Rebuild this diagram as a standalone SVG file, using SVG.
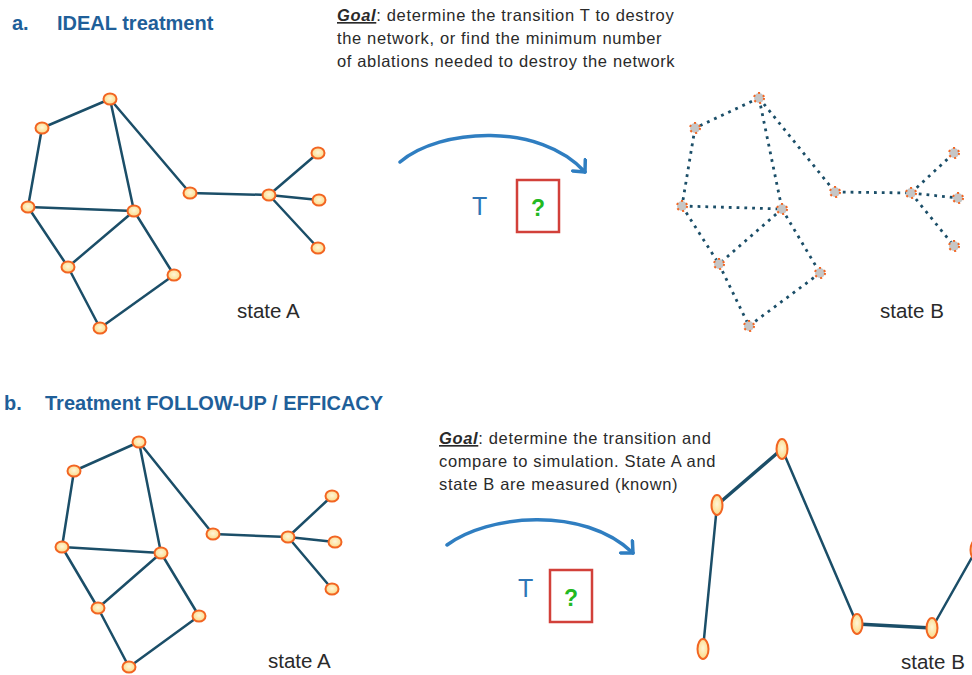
<svg xmlns="http://www.w3.org/2000/svg" width="972" height="675" viewBox="0 0 972 675">
  <defs>
    <radialGradient id="nodeFill" cx="50%" cy="45%" r="60%">
      <stop offset="0%" stop-color="#fff6d8"/>
      <stop offset="100%" stop-color="#fbd77e"/>
    </radialGradient>
    <marker id="chevron" markerUnits="userSpaceOnUse" markerWidth="20" markerHeight="20" viewBox="-12 -10 14 20" refX="0" refY="0" orient="auto">
      <path d="M-9,-8.5 L0,0 L-9,8.5" fill="none" stroke="#2f7ec1" stroke-width="3.5" stroke-linecap="round" stroke-linejoin="round"/>
    </marker>
  </defs>
  <style>
    .title { font-family: "Liberation Sans", Arial, sans-serif; font-weight: bold; font-size: 20px; fill: #1f5f99; }
    .body { font-family: "Liberation Sans", Arial, sans-serif; font-size: 16.5px; letter-spacing: 0.65px; fill: #2a2a2a; }
    .goal { font-weight: bold; font-style: italic; text-decoration: underline; }
    .state { font-family: "Liberation Sans", Arial, sans-serif; font-size: 20.5px; fill: #2a2a2a; }
    .tlabel { font-family: "Liberation Sans", Arial, sans-serif; font-size: 25px; fill: #2e75b6; }
    .qmark { font-family: "Liberation Sans", Arial, sans-serif; font-size: 23px; font-weight: bold; fill: #22b922; }
    .qbox { fill: none; stroke: #d2403a; stroke-width: 2.5; }
    .edge { stroke: #1b4e68; stroke-width: 2.5; fill: none; stroke-linecap: round; }
    .edge-thick { stroke: #1b4e68; stroke-width: 3.5; fill: none; stroke-linecap: round; }
    .dotted { stroke: #1b4e68; stroke-width: 2.8; fill: none; stroke-dasharray: 2.8 5; }
    .node { fill: url(#nodeFill); stroke: #f26522; stroke-width: 2; }
    .ghost { fill: #c6c6c6; stroke: #f26522; stroke-width: 2; stroke-dasharray: 2 3.5; }
    .arc { fill: none; stroke: #2f7ec1; stroke-width: 3.5; stroke-linecap: round; }
  </style>

  <!-- Section a -->
  <g id="title-a">
    <text class="title" x="12" y="30">a.</text>
    <text class="title" x="57" y="30">IDEAL treatment</text>
  </g>
  <g id="goal-a">
    <text class="body" x="337" y="21"><tspan class="goal">Goal</tspan>: determine  the transition T to destroy</text>
    <text class="body" x="337" y="44">the network,  or find the minimum  number</text>
    <text class="body" x="337" y="67">of ablations needed to destroy the network</text>
  </g>

  <!-- network a, state A: connectors -->
  <g id="edges-a-stateA">
    <line class="edge" x1="110" y1="99" x2="42" y2="128"/>
    <line class="edge" x1="110" y1="99" x2="134" y2="211"/>
    <line class="edge" x1="110" y1="99" x2="190" y2="193"/>
    <line class="edge" x1="42" y1="128" x2="28" y2="207"/>
    <line class="edge" x1="28" y1="207" x2="134" y2="211"/>
    <line class="edge" x1="28" y1="207" x2="68" y2="267"/>
    <line class="edge" x1="134" y1="211" x2="68" y2="267"/>
    <line class="edge" x1="134" y1="211" x2="174" y2="275"/>
    <line class="edge" x1="68" y1="267" x2="100" y2="328"/>
    <line class="edge" x1="174" y1="275" x2="100" y2="328"/>
    <line class="edge" x1="190" y1="193" x2="269" y2="195"/>
    <line class="edge" x1="269" y1="195" x2="318" y2="153"/>
    <line class="edge" x1="269" y1="195" x2="319" y2="200"/>
    <line class="edge" x1="269" y1="195" x2="318" y2="248"/>
  </g>
  <g id="nodes-a-stateA">
    <g id="aA1"><ellipse class="node" cx="110" cy="99" rx="6.5" ry="5.5"/></g>
    <g id="aA2"><ellipse class="node" cx="42" cy="128" rx="6.5" ry="5.5"/></g>
    <g id="aA3"><ellipse class="node" cx="28" cy="207" rx="6.5" ry="5.5"/></g>
    <g id="aA4"><ellipse class="node" cx="134" cy="211" rx="6.5" ry="5.5"/></g>
    <g id="aA5"><ellipse class="node" cx="68" cy="267" rx="6.5" ry="5.5"/></g>
    <g id="aA6"><ellipse class="node" cx="174" cy="275" rx="6.5" ry="5.5"/></g>
    <g id="aA7"><ellipse class="node" cx="100" cy="328" rx="6.5" ry="5.5"/></g>
    <g id="aA8"><ellipse class="node" cx="190" cy="193" rx="6.5" ry="5.5"/></g>
    <g id="aA9"><ellipse class="node" cx="269" cy="195" rx="6.5" ry="5.5"/></g>
    <g id="aA10"><ellipse class="node" cx="318" cy="153" rx="6.5" ry="5.5"/></g>
    <g id="aA11"><ellipse class="node" cx="319" cy="200" rx="6.5" ry="5.5"/></g>
    <g id="aA12"><ellipse class="node" cx="318" cy="248" rx="6.5" ry="5.5"/></g>
  </g>
  <text class="state" x="237" y="318">state A</text>

  <!-- transition a -->
  <g id="transition-a">
    <path class="arc" d="M400,162 C440,128 540,122 585,172" marker-end="url(#chevron)"/>
    <text class="tlabel" x="472" y="215">T</text>
    <rect class="qbox" x="517" y="180" width="42" height="52"/>
    <text class="qmark" x="538" y="216" text-anchor="middle">?</text>
  </g>

  <!-- network a, state B: connectors -->
  <g id="edges-a-stateB">
    <line class="dotted" x1="759" y1="98" x2="695" y2="128"/>
    <line class="dotted" x1="759" y1="98" x2="782" y2="209"/>
    <line class="dotted" x1="759" y1="98" x2="835" y2="192"/>
    <line class="dotted" x1="695" y1="128" x2="682" y2="206"/>
    <line class="dotted" x1="682" y1="206" x2="782" y2="209"/>
    <line class="dotted" x1="682" y1="206" x2="719" y2="264"/>
    <line class="dotted" x1="782" y1="209" x2="719" y2="264"/>
    <line class="dotted" x1="782" y1="209" x2="820" y2="273"/>
    <line class="dotted" x1="719" y1="264" x2="749" y2="326"/>
    <line class="dotted" x1="820" y1="273" x2="749" y2="326"/>
    <line class="dotted" x1="835" y1="192" x2="911" y2="193"/>
    <line class="dotted" x1="911" y1="193" x2="954" y2="153"/>
    <line class="dotted" x1="911" y1="193" x2="958" y2="198"/>
    <line class="dotted" x1="911" y1="193" x2="954" y2="246"/>
  </g>
  <g id="nodes-a-stateB">
    <g id="aB1"><circle class="ghost" cx="759" cy="98" r="5"/></g>
    <g id="aB2"><circle class="ghost" cx="695" cy="128" r="5"/></g>
    <g id="aB3"><circle class="ghost" cx="682" cy="206" r="5"/></g>
    <g id="aB4"><circle class="ghost" cx="782" cy="209" r="5"/></g>
    <g id="aB5"><circle class="ghost" cx="719" cy="264" r="5"/></g>
    <g id="aB6"><circle class="ghost" cx="820" cy="273" r="5"/></g>
    <g id="aB7"><circle class="ghost" cx="749" cy="326" r="5"/></g>
    <g id="aB8"><circle class="ghost" cx="835" cy="192" r="5"/></g>
    <g id="aB9"><circle class="ghost" cx="911" cy="193" r="5"/></g>
    <g id="aB10"><circle class="ghost" cx="954" cy="153" r="5"/></g>
    <g id="aB11"><circle class="ghost" cx="958" cy="198" r="5"/></g>
    <g id="aB12"><circle class="ghost" cx="954" cy="246" r="5"/></g>
  </g>
  <text class="state" x="880" y="318">state B</text>

  <!-- Section b -->
  <g id="title-b">
    <text class="title" x="4" y="410">b.</text>
    <text class="title" x="45" y="410">Treatment FOLLOW-UP / EFFICACY</text>
  </g>
  <g id="goal-b">
    <text class="body" x="439" y="444"><tspan class="goal">Goal</tspan>: determine  the transition and</text>
    <text class="body" x="439" y="467">compare to simulation. State A and</text>
    <text class="body" x="439" y="490">state B are measured (known)</text>
  </g>

  <!-- network b, state A: connectors -->
  <g id="edges-b-stateA">
    <line class="edge" x1="139" y1="442" x2="74" y2="471"/>
    <line class="edge" x1="139" y1="442" x2="161" y2="553"/>
    <line class="edge" x1="139" y1="442" x2="213" y2="534"/>
    <line class="edge" x1="74" y1="471" x2="62" y2="547"/>
    <line class="edge" x1="62" y1="547" x2="161" y2="553"/>
    <line class="edge" x1="62" y1="547" x2="98" y2="608"/>
    <line class="edge" x1="161" y1="553" x2="98" y2="608"/>
    <line class="edge" x1="161" y1="553" x2="199" y2="616"/>
    <line class="edge" x1="98" y1="608" x2="129" y2="667"/>
    <line class="edge" x1="199" y1="616" x2="129" y2="667"/>
    <line class="edge" x1="213" y1="534" x2="288" y2="537"/>
    <line class="edge" x1="288" y1="537" x2="332" y2="496"/>
    <line class="edge" x1="288" y1="537" x2="335" y2="542"/>
    <line class="edge" x1="288" y1="537" x2="332" y2="589"/>
  </g>
  <g id="nodes-b-stateA">
    <g id="bA1"><ellipse class="node" cx="139" cy="442" rx="6.5" ry="5.5"/></g>
    <g id="bA2"><ellipse class="node" cx="74" cy="471" rx="6.5" ry="5.5"/></g>
    <g id="bA3"><ellipse class="node" cx="62" cy="547" rx="6.5" ry="5.5"/></g>
    <g id="bA4"><ellipse class="node" cx="161" cy="553" rx="6.5" ry="5.5"/></g>
    <g id="bA5"><ellipse class="node" cx="98" cy="608" rx="6.5" ry="5.5"/></g>
    <g id="bA6"><ellipse class="node" cx="199" cy="616" rx="6.5" ry="5.5"/></g>
    <g id="bA7"><ellipse class="node" cx="129" cy="667" rx="6.5" ry="5.5"/></g>
    <g id="bA8"><ellipse class="node" cx="213" cy="534" rx="6.5" ry="5.5"/></g>
    <g id="bA9"><ellipse class="node" cx="288" cy="537" rx="6.5" ry="5.5"/></g>
    <g id="bA10"><ellipse class="node" cx="332" cy="496" rx="6.5" ry="5.5"/></g>
    <g id="bA11"><ellipse class="node" cx="335" cy="542" rx="6.5" ry="5.5"/></g>
    <g id="bA12"><ellipse class="node" cx="332" cy="589" rx="6.5" ry="5.5"/></g>
  </g>
  <text class="state" x="268" y="668">state A</text>

  <!-- transition b -->
  <g id="transition-b">
    <path class="arc" d="M447,545 C487,515 583,505 633,553" marker-end="url(#chevron)"/>
    <text class="tlabel" x="518" y="597">T</text>
    <rect class="qbox" x="550" y="570" width="42" height="52"/>
    <text class="qmark" x="571" y="606" text-anchor="middle">?</text>
  </g>

  <!-- network b, state B: connectors -->
  <g id="edges-b-stateB">
    <line class="edge" x1="703" y1="649" x2="717" y2="505"/>
    <line class="edge-thick" x1="717" y1="505" x2="782" y2="449"/>
    <line class="edge" x1="782" y1="449" x2="857" y2="624"/>
    <line class="edge-thick" x1="857" y1="624" x2="932" y2="628"/>
    <line class="edge" x1="932" y1="628" x2="975" y2="552"/>
  </g>
  <g id="nodes-b-stateB">
    <g id="bB1"><ellipse class="node" cx="703" cy="649" rx="5.5" ry="10" stroke-width="2.5"/></g>
    <g id="bB2"><ellipse class="node" cx="717" cy="505" rx="5.5" ry="10" stroke-width="2.5"/></g>
    <g id="bB3"><ellipse class="node" cx="782" cy="449" rx="5.5" ry="10" stroke-width="2.5"/></g>
    <g id="bB4"><ellipse class="node" cx="857" cy="624" rx="5.5" ry="10" stroke-width="2.5"/></g>
    <g id="bB5"><ellipse class="node" cx="932" cy="628" rx="5.5" ry="10" stroke-width="2.5"/></g>
    <g id="bB6"><ellipse class="node" cx="976" cy="550" rx="5.5" ry="10" stroke-width="2.5"/></g>
  </g>
  <text class="state" x="901" y="669">state B</text>
</svg>
